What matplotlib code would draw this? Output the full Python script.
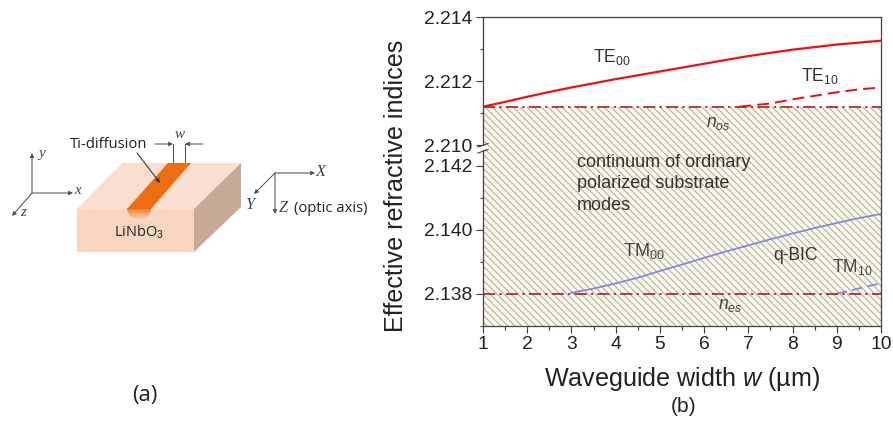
import numpy as np
import matplotlib
matplotlib.use("Agg")
import matplotlib.pyplot as plt
from matplotlib.colors import LinearSegmentedColormap
from matplotlib.patches import Polygon, Ellipse, Rectangle

plt.rcParams["font.family"] = ["Liberation Sans", "DejaVu Sans"]
plt.rcParams["mathtext.fontset"] = "custom"
plt.rcParams["mathtext.rm"] = "Liberation Sans"
plt.rcParams["mathtext.it"] = "Liberation Sans:italic"
plt.rcParams["hatch.linewidth"] = 0.9
plt.rcParams["hatch.color"] = "#aaaa9e"

# values
te00_w = [1, 1.5, 2, 2.5, 3, 3.5, 4, 4.5, 5, 5.5, 6, 6.5, 7, 7.5, 8, 8.5, 9, 9.5, 10]
te00_n = [2.2112, 2.21135, 2.21151, 2.21166, 2.2118, 2.21193, 2.21206, 2.21218, 2.2123, 2.21242,
          2.21254, 2.21266, 2.21278, 2.21288, 2.21298, 2.21306, 2.21314, 2.2132, 2.21326]
te10_w = [6.8, 7.5, 8, 8.5, 9, 9.5, 10]
te10_n = [2.2112, 2.2113, 2.21143, 2.21154, 2.21165, 2.21174, 2.2118]
tm00_w = [3, 3.5, 4, 4.5, 5, 5.5, 6, 6.5, 7, 7.5, 8, 8.5, 9, 9.5, 10]
tm00_n = [2.13803, 2.13816, 2.13832, 2.1385, 2.13871, 2.13891, 2.13912, 2.13932, 2.13951, 2.1397,
          2.13988, 2.14005, 2.14021, 2.14036, 2.14049]
tm10_w = [9, 10]
tm10_n = [2.138, 2.13833]
n_os = 2.2112
n_es = 2.138

W, H = 893, 421
DPI = 84
fig = plt.figure(figsize=(W / DPI, H / DPI), dpi=DPI)


def px_axes(left, top, right, bottom):
    return fig.add_axes([left / W, 1 - bottom / H, (right - left) / W, (bottom - top) / H])


# (a) sketch, in pixel coordinates
sk = fig.add_axes([0, 0, 1, 1])
sk.set_xlim(0, W)
sk.set_ylim(H, 0)
sk.axis("off")

sk.add_patch(Polygon([(77, 209), (194, 209), (194, 252), (77, 252)], fc="#f8d6bf", ec="none"))
sk.add_patch(Polygon([(77, 209), (122, 163), (241, 163), (194, 209)], fc="#fadfd0", ec="none"))
sk.add_patch(Polygon([(194, 209), (241, 163), (241, 207), (194, 252)], fc="#c6a996", ec="none"))

# glow under the strip
glow = LinearSegmentedColormap.from_list("glow", ["#ee7a28", "#f8d6bf"])
im = sk.imshow(np.linspace(0, 1, 32).reshape(-1, 1), cmap=glow, extent=(127, 151, 220, 208), aspect="auto", zorder=2)
im.set_clip_path(Ellipse((139, 208), 24, 24, transform=sk.transData))
sk.set_xlim(0, W)
sk.set_ylim(H, 0)
sk.add_patch(Polygon([(127, 209), (168, 163), (191, 163), (151, 209)], fc="#ee6c12", ec="none", zorder=3))


def arrow(x0, y0, x1, y1, col="#555555"):
    sk.annotate("", xy=(x1, y1), xytext=(x0, y0), zorder=4,
                arrowprops=dict(arrowstyle="-|>", color=col, lw=0.9, mutation_scale=7, shrinkA=0, shrinkB=0))


arrow(32, 193, 32, 153)
arrow(32, 193, 73, 193)
arrow(32, 193, 12, 216)
arrow(275, 173, 315, 173)
arrow(275, 173, 254, 194)
arrow(275, 173, 275, 214)
arrow(137, 153, 160, 183, "#333333")

sk.plot([173, 173], [144, 163], color="#555555", lw=0.9)
sk.plot([185, 185], [144, 163], color="#555555", lw=0.9)
arrow(155, 144, 173, 144)
arrow(203, 144, 185, 144)

serif = "Liberation Serif"
greek = dict(family=serif, style="italic", color="#444444", ha="center", va="center")
sk.text(42, 154, "y", fontsize=13, **greek)
sk.text(78, 191, "x", fontsize=13, **greek)
sk.text(23, 213, "z", fontsize=13, **greek)
sk.text(180, 135, "w", fontsize=13, **greek)
sk.text(321, 172, "X", fontsize=14, **greek)
sk.text(250, 205, "Y", fontsize=14, **greek)
sk.text(283, 208, "Z", fontsize=14, **greek)
sk.text(294, 209, "(optic axis)", fontsize=12.6, color="#222222", ha="left", va="center", family="Open Sans")
sk.text(70, 145, "Ti-diffusion", fontsize=12.8, color="#222222", ha="left", va="center", family="Open Sans")
sk.text(114, 232, "LiNbO$_3$", fontsize=12.4, color="#222222", ha="left", va="center", family="Open Sans")
sk.text(145, 396, "(a)", fontsize=19, color="#222222", ha="center", va="center", family="Open Sans")

# (b) broken y axis
top = px_axes(483, 17, 881, 149)
bot = px_axes(483, 149, 881, 325.7)
top.set_ylim(2.20988, 2.214)
bot.set_ylim(2.137, 2.14252)
for ax in (top, bot):
    ax.set_xlim(1, 10)
    ax.patch.set_alpha(0)
    for s in ax.spines.values():
        s.set_color("#444444")
        s.set_linewidth(1.1)
top.spines["bottom"].set_visible(False)
bot.spines["top"].set_visible(False)

cream = "#fcfbec"
top.fill_between([1, 10], 2.20988, n_os, fc=cream, hatch="\\\\\\\\", lw=0)
bot.fill_between([1, 10], 2.137, 2.14252, fc=cream, hatch="\\\\\\\\", lw=0)

dashdot = (0, (7.5, 2.5, 1.5, 2.5))
top.plot(te00_w, te00_n, color="#f01010", lw=1.9)
top.plot(te10_w, te10_n, color="#f01010", lw=1.7, dashes=(6, 3))
top.plot([1, 10], [n_os, n_os], color="#a81c1c", lw=1.4, ls=dashdot)
bot.plot(tm00_w, tm00_n, color="#8484e4", lw=1.5)
bot.plot(tm10_w, tm10_n, color="#8484e4", lw=1.5, dashes=(6, 3))
bot.plot([1, 10], [n_es, n_es], color="#a81c1c", lw=1.4, ls=dashdot)

top.set_yticks([2.210, 2.212, 2.214])
top.set_yticks([2.211, 2.213], minor=True)
top.set_xticks([])
bot.set_yticks([2.138, 2.140, 2.142])
bot.set_yticks([2.137, 2.139, 2.141], minor=True)
bot.set_xticks(range(1, 11))
bot.set_xticks(np.arange(1.5, 10, 1), minor=True)
top.yaxis.set_major_formatter("{x:.3f}")
bot.yaxis.set_major_formatter("{x:.3f}")
for ax in (top, bot):
    ax.tick_params(axis="both", which="major", length=6, width=1.0, color="#444444",
                   labelsize=16.5, labelcolor="#222222", pad=3)
    ax.tick_params(axis="both", which="minor", length=3, width=1.0, color="#444444")

# break marks on the y axis, plus labels in pixel coordinates
sk2 = fig.add_axes([0, 0, 1, 1], zorder=5)
sk2.set_xlim(0, W)
sk2.set_ylim(H, 0)
sk2.axis("off")
sk2.add_patch(Rectangle((481, 146), 4, 4, fc="white", ec="none"))
sk2.plot([478, 488], [147, 143.5], color="#444444", lw=1)
sk2.plot([478, 488], [153, 149.5], color="#444444", lw=1)

sk2.text(396, 186, "Effective refractive indices", rotation=90, fontsize=21.5, color="#222222", ha="center", va="center")
sk2.text(682, 379, "Waveguide width $\\mathit{w}$ (µm)", fontsize=21.5, color="#222222", ha="center", va="center")
sk2.text(684, 407, "(b)", fontsize=18, color="#222222", ha="center", va="center")

sk2.text(593, 57, "TE$_{00}$", fontsize=15, color="#333333", ha="left", va="center")
sk2.text(801, 76, "TE$_{10}$", fontsize=15, color="#333333", ha="left", va="center")
sk2.text(706, 124, "$\\mathit{n}_{\\mathit{os}}$", fontsize=15, color="#444444", ha="left", va="center")
sk2.text(577, 184, "continuum of ordinary\npolarized substrate\nmodes", fontsize=15.4, color="#333333",
         ha="left", va="center", linespacing=1.31)
sk2.text(623, 251, "TM$_{00}$", fontsize=15.5, color="#444444", ha="left", va="center")
sk2.text(773, 256, "q-BIC", fontsize=15, color="#333333", ha="left", va="center")
sk2.text(832, 267, "TM$_{10}$", fontsize=15, color="#444444", ha="left", va="center")
sk2.text(718, 305, "$\\mathit{n}_{\\mathit{es}}$", fontsize=15, color="#444444", ha="left", va="center")

fig.savefig("out.png", dpi=DPI)
